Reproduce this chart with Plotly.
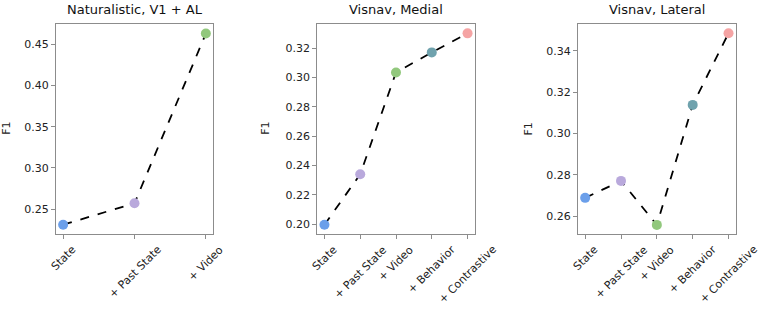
import plotly.graph_objects as go

W, H = 761, 310

titles = ["Naturalistic, V1 + AL", "Visnav, Medial", "Visnav, Lateral"]
cats_nat = ["State", "+ Past State", "+ Video"]
cats_vis = ["State", "+ Past State", "+ Video", "+ Behavior", "+ Contrastive"]
f1_nat = [0.231, 0.257, 0.463]
f1_medial = [0.1995, 0.2340, 0.3035, 0.3172, 0.3302]
f1_lateral = [0.2688, 0.2770, 0.2557, 0.3138, 0.3485]
colors = ["#6b9fea", "#b9a9dc", "#92c87d", "#6fa2ad", "#f5a4a4"]

yticks_nat = [0.25, 0.30, 0.35, 0.40, 0.45]
yticks_med = [0.20, 0.22, 0.24, 0.26, 0.28, 0.30, 0.32]
yticks_lat = [0.26, 0.28, 0.30, 0.32, 0.34]

panels = [
    (cats_nat, f1_nat, yticks_nat, [-0.1, 2.1], [0.2197, 0.475], (56, 213)),
    (cats_vis, f1_medial, yticks_med, [-0.2, 4.2], [0.1932, 0.3368], (317.3, 474.7)),
    (cats_vis, f1_lateral, yticks_lat, [-0.2, 4.2], [0.2513, 0.3531], (578, 735.7)),
]
ytitle_x = [7, 266, 528.7]

top_px, bot_px = 23.7, 234
label_top_px = 242
ydom = [(H - bot_px) / H, (H - top_px) / H]

fig = go.Figure()
font = "DejaVu Sans, Verdana, sans-serif"
annotations = []
for i, (cats, vals, yt, xr, yr, (x0, x1)) in enumerate(panels):
    n = "" if i == 0 else str(i + 1)
    xs = list(range(len(cats)))
    fig.add_trace(go.Scatter(
        x=xs, y=vals, mode="lines", xaxis="x" + n, yaxis="y" + n,
        line=dict(color="black", width=1.8, dash="dash"), showlegend=False,
        hoverinfo="skip"))
    fig.add_trace(go.Scatter(
        x=xs, y=vals, mode="markers", xaxis="x" + n, yaxis="y" + n,
        marker=dict(color=colors[:len(cats)], size=10, line=dict(width=0)),
        showlegend=False))
    common = dict(showline=True, linecolor="#8c8c8c", linewidth=1, mirror=True,
                  showgrid=False, zeroline=False, ticks="outside", ticklen=4,
                  tickcolor="#8c8c8c", tickwidth=1, automargin=False,
                  tickfont=dict(family=font, size=11, color="#222"))
    fig.layout["xaxis" + n] = dict(
        domain=[x0 / W, x1 / W], range=xr, anchor="y" + n,
        tickmode="array", tickvals=xs, ticktext=cats, showticklabels=False, **common)
    fig.layout["yaxis" + n] = dict(
        domain=ydom, range=yr, anchor="x" + n,
        tickmode="array", tickvals=yt, ticktext=[f"{v:.2f}" for v in yt], **common)
    # rotated category labels, centred on their ticks (matplotlib style)
    for xv, lab in zip(xs, cats):
        annotations.append(dict(
            text=lab, x=xv, xref="x" + n, y=(H - label_top_px) / H, yref="paper",
            showarrow=False, textangle=-45, xanchor="center", yanchor="top",
            borderpad=0, font=dict(family=font, size=11, color="#222")))
    annotations.append(dict(
        text=titles[i], x=(x0 + x1) / 2 / W, y=(H - 10) / H, xref="paper", yref="paper",
        showarrow=False, xanchor="center", yanchor="middle",
        font=dict(family=font, size=13, color="#111")))
    annotations.append(dict(
        text="F1", x=ytitle_x[i] / W, y=(H - (top_px + bot_px) / 2) / H,
        xref="paper", yref="paper", showarrow=False, textangle=-90,
        xanchor="center", yanchor="middle",
        font=dict(family=font, size=11, color="#222")))

fig.update_layout(
    width=W, height=H, margin=dict(l=0, r=0, t=0, b=0),
    paper_bgcolor="white", plot_bgcolor="white",
    annotations=annotations, showlegend=False)

fig.write_html("out.html", config={"displayModeBar": False},
               post_script="document.body.style.margin='0';document.body.style.overflow='hidden';")
